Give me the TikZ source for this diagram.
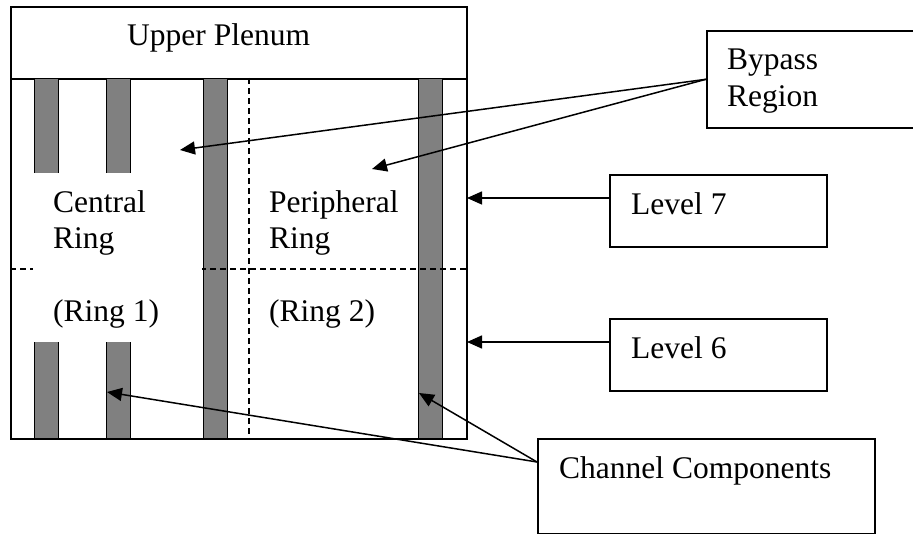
\documentclass[tikz,border=0pt]{standalone}
\usepackage{fontspec}
\setmainfont{Liberation Serif}
\usetikzlibrary{arrows.meta}
\begin{document}
\begin{tikzpicture}[x=1pt,y=-1pt,
  frame/.style={draw,line width=1.6pt,anchor=north west,inner sep=0pt},
  rod/.style={draw,fill=gray,line width=1.3pt,anchor=north west,inner sep=0pt,
              minimum width=24pt,minimum height=360pt},
  lbl/.style={anchor=base west,inner sep=0pt,font=\fontsize{31.5}{36}\selectfont},
  callout/.style={draw,line width=1.6pt,anchor=north west,inner sep=0pt},
  arr/.style={line width=1.5pt,-{Triangle[length=15pt,width=13pt]}},
  levelline/.style={line width=1.2pt,dash pattern=on 6pt off 4pt}]

\useasboundingbox (0,0) rectangle (913,534);
\clip (0,0) rectangle (913,534);

% core: upper plenum above the channel region
\node[frame,minimum width=456pt,minimum height=72pt] (plenum) at (10,6) {};
\node[frame,minimum width=456pt,minimum height=360pt] (core) at (10,78) {};

% fuel channels
\node[rod] (r1) at (33.5,78) {};
\node[rod] (r2) at (105.5,78) {};
\node[rod] (r3) at (202.5,78) {};
\node[rod] (r4) at (418,78) {};

% ring boundary and level boundary
\draw[levelline] (249,78) -- (249,438);
\draw[levelline] (10,269) -- (466,269);

% blank label area of the central ring
\node[fill=white,anchor=north west,inner sep=0pt,minimum width=169pt,minimum height=169pt] (ringone) at (32.8,173) {};

% labels inside the core
\node[lbl] (tplenum) at (127,46) {Upper Plenum};
\node[lbl] (tc1) at (53,213) {Central};
\node[lbl] (tc2) at (53,249) {Ring};
\node[lbl] (tc3) at (53,322) {(Ring 1)};
\node[lbl] (tp1) at (269,213) {Peripheral};
\node[lbl] (tp2) at (269,249) {Ring};
\node[lbl] (tp3) at (269,322) {(Ring 2)};

% callout boxes
\node[callout,minimum width=260pt,minimum height=97pt] (bypass) at (706,30) {};
\node[lbl] (tb1) at (727,70) {Bypass};
\node[lbl] (tb2) at (727,107) {Region};

\node[callout,minimum width=217pt,minimum height=72pt] (lv7) at (609,174) {};
\node[lbl] (tl7) at (631,215) {Level 7};

\node[callout,minimum width=217pt,minimum height=72pt] (lv6) at (609,318) {};
\node[lbl] (tl6) at (631,359) {Level 6};

\node[callout,minimum width=337pt,minimum height=95pt] (chan) at (537,438) {};
\node[lbl] (tch) at (559,478) {Channel Components};

% arrow targets
\coordinate (bpa) at (180,150);
\coordinate (bpb) at (372,169);
\coordinate (l7tip) at (467,198);
\coordinate (l6tip) at (467,342);
\coordinate (cca) at (107,392);
\coordinate (ccb) at (419,393);
\coordinate (ccstart) at (537,462);

% connectors
\draw[arr] (bypass.west) -- (bpa);
\draw[arr] (bypass.west) -- (bpb);
\draw[arr] (lv7.west |- l7tip) -- (l7tip);
\draw[arr] (lv6.west |- l6tip) -- (l6tip);
\draw[arr] (ccstart) -- (cca);
\draw[arr] (ccstart) -- (ccb);
\end{tikzpicture}
\end{document}
